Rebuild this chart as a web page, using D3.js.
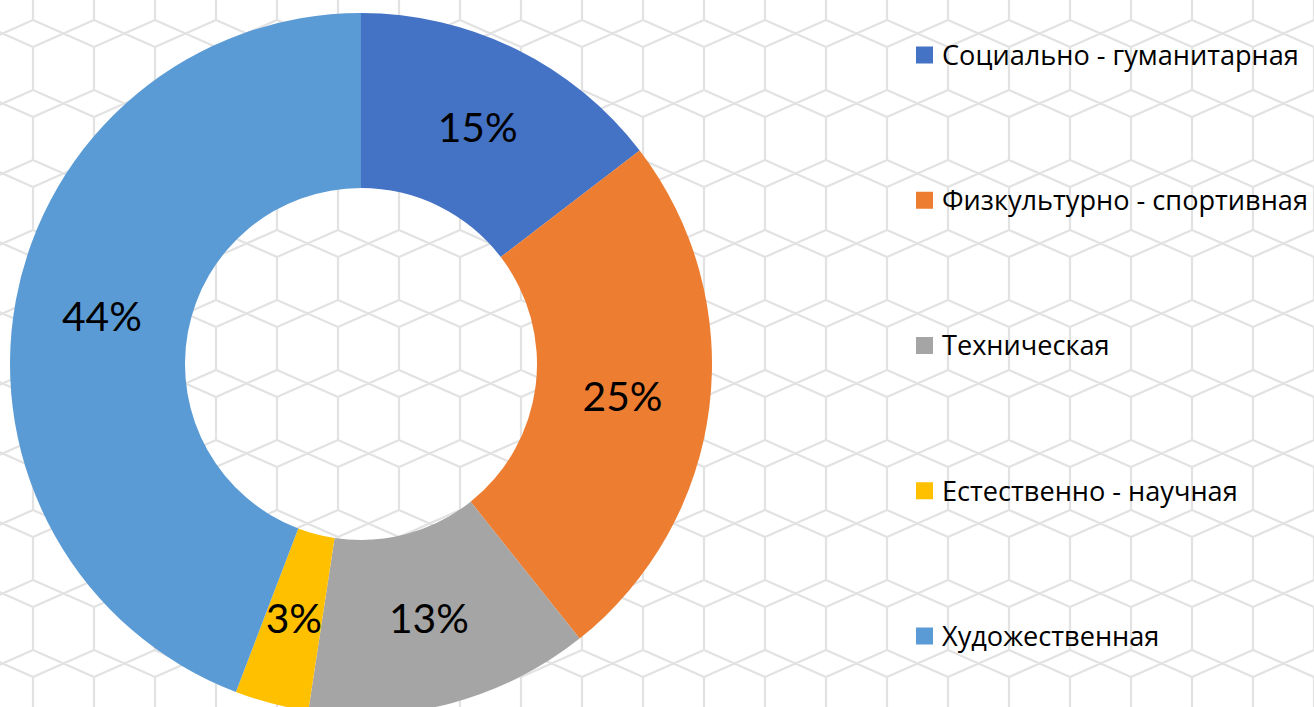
<!DOCTYPE html>
<html lang="ru">
<head>
  <meta charset="utf-8">
  <title>Направленности</title>
  <script src="https://cdn.jsdelivr.net/npm/d3@7"></script>
  <style>
    body { margin: 0; background: #fff; }
    svg { display: block; }
    text { font-family: "Open Sans", "Noto Sans", sans-serif; fill: #000; }
    .lbl { font-family: Lato, "Open Sans", sans-serif; }
  </style>
</head>
<body>
  <svg id="chart" width="1314" height="707"></svg>
  <script>
    var categories = ["Социально - гуманитарная", "Физкультурно - спортивная", "Техническая", "Естественно - научная", "Художественная"];
    var values = [14.6, 24.7, 13.1, 3.4, 44.2];
    var colors = ["#4472C4", "#ED7D31", "#A5A5A5", "#FFC000", "#5B9BD5"];

    var W = 1314, H = 707;
    var svg = d3.select("#chart");

    // фон: светлая сетка из шестиугольников
    var defs = svg.append("defs");
    defs.append("filter").attr("id", "soft")
      .append("feGaussianBlur").attr("stdDeviation", 0.7);
    var bg = svg.append("g").attr("fill", "none").attr("stroke", "#e2e2e2")
      .attr("stroke-width", 2.2).attr("filter", "url(#soft)");
    var hw = 61, hx0 = 33 - 61, hp = 70, hy0 = 47 - 70, hv = 43;
    var hexPath = d3.path();
    for (var x = hx0; x < W + hw; x += hw) {
      for (var y = hy0; y < H + hp; y += hp) {
        hexPath.moveTo(x, y); hexPath.lineTo(x, y + hv);
        hexPath.moveTo(x, y + hv); hexPath.lineTo(x + hw, y + hp);
        hexPath.moveTo(x + hw, y + hv); hexPath.lineTo(x, y + hp);
      }
    }
    bg.append("path").attr("d", hexPath.toString());

    // кольцевая диаграмма
    var cx = 361, cy = 364, outerR = 351, innerR = 176;
    var total = d3.sum(values);
    var pie = d3.pie().sort(null).value(function (d) { return d; });
    var arcs = pie(values);
    var arc = d3.arc().innerRadius(innerR).outerRadius(outerR);

    var g = svg.append("g").attr("transform", "translate(" + cx + "," + cy + ")");
    g.selectAll("path.slice")
      .data(arcs)
      .enter()
      .append("path")
      .attr("class", "slice")
      .attr("d", arc)
      .style("fill", function (d, i) { return colors[i]; });

    // подбор размера шрифта под ширину текста
    function fitSize(str, targetWidth, base, cls) {
      var t = svg.append("text").attr("class", cls || null).style("font-size", base + "px").text(str);
      var w = t.node().getComputedTextLength();
      t.remove();
      return base * targetWidth / w;
    }

    var labelSize = fitSize("15%", 80, 40, "lbl");
    g.selectAll("text.lbl")
      .data(arcs)
      .enter()
      .append("text")
      .attr("class", "lbl")
      .attr("transform", function (d) { return "translate(" + arc.centroid(d) + ")"; })
      .attr("text-anchor", "middle")
      .attr("dy", "0.36em")
      .style("font-size", labelSize + "px")
      .text(function (d) { return Math.round(d.value / total * 100) + "%"; });

    // легенда
    var legendSize = fitSize(categories[0], 357, 26);
    var legendY = d3.scalePoint().domain(categories).range([55, 636]);
    var leg = svg.append("g").selectAll("g")
      .data(categories)
      .enter()
      .append("g")
      .attr("transform", function (d) { return "translate(916," + legendY(d) + ")"; });
    leg.append("rect")
      .attr("x", 0).attr("y", -8.5)
      .attr("width", 17).attr("height", 17)
      .style("fill", function (d, i) { return colors[i]; });
    leg.append("text")
      .attr("x", 26)
      .attr("dy", "0.36em")
      .style("font-size", legendSize + "px")
      .text(function (d) { return d; });
  </script>
</body>
</html>
